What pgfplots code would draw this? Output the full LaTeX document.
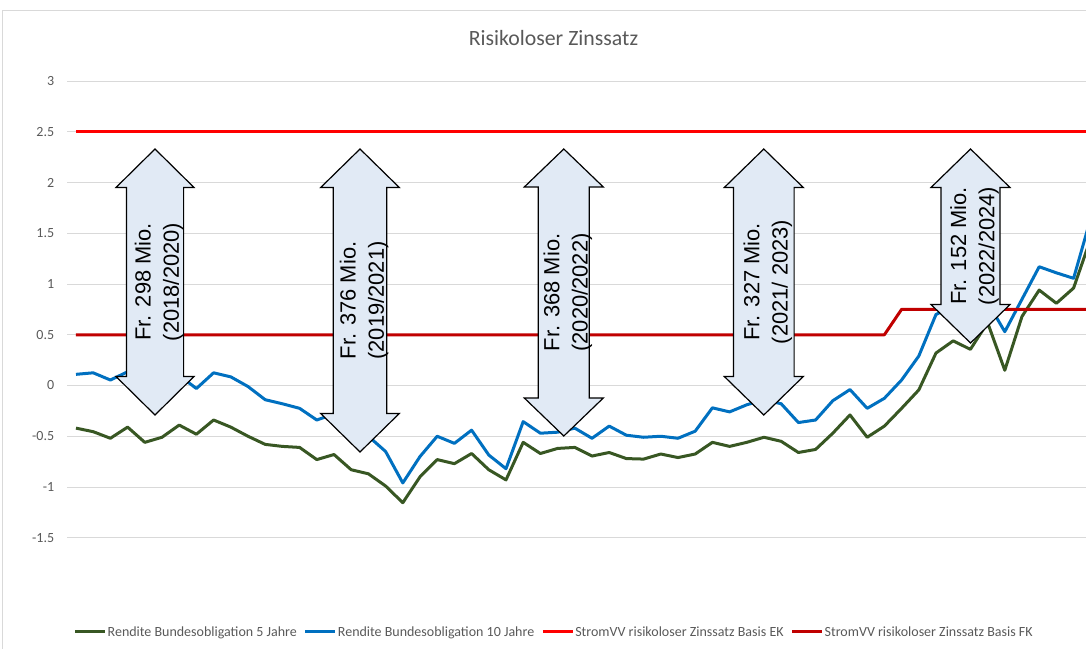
\documentclass[border=0pt]{standalone}
\usepackage{pgfplots}
\pgfplotsset{compat=1.18}
\usepackage{pgfplotstable}
\usepackage{fontspec}
\setmainfont{Carlito}
\newfontfamily\arialfont{Liberation Sans}
\definecolor{g5}{HTML}{385723}
\definecolor{b10}{HTML}{0070C0}
\definecolor{rek}{HTML}{FF0000}
\definecolor{rfk}{HTML}{C00000}
\definecolor{gridc}{HTML}{D9D9D9}
\definecolor{txt}{HTML}{595959}
\definecolor{arrowfill}{HTML}{E1EAF5}

\pgfplotstableread{
i g b ek fk
0 -0.42 0.11 2.5 0.5
1 -0.455 0.125 2.5 0.5
2 -0.52 0.054 2.5 0.5
3 -0.41 0.135 2.5 0.5
4 -0.56 0.00 2.5 0.5
5 -0.51 0.03 2.5 0.5
6 -0.39 0.10 2.5 0.5
7 -0.48 -0.03 2.5 0.5
8 -0.34 0.125 2.5 0.5
9 -0.41 0.085 2.5 0.5
10 -0.50 -0.01 2.5 0.5
11 -0.58 -0.14 2.5 0.5
12 -0.60 -0.18 2.5 0.5
13 -0.61 -0.225 2.5 0.5
14 -0.73 -0.34 2.5 0.5
15 -0.68 -0.28 2.5 0.5
16 -0.83 -0.42 2.5 0.5
17 -0.87 -0.50 2.5 0.5
18 -0.99 -0.65 2.5 0.5
19 -1.155 -0.96 2.5 0.5
20 -0.90 -0.70 2.5 0.5
21 -0.73 -0.50 2.5 0.5
22 -0.77 -0.57 2.5 0.5
23 -0.67 -0.44 2.5 0.5
24 -0.83 -0.685 2.5 0.5
25 -0.93 -0.82 2.5 0.5
26 -0.56 -0.356 2.5 0.5
27 -0.67 -0.47 2.5 0.5
28 -0.62 -0.46 2.5 0.5
29 -0.61 -0.42 2.5 0.5
30 -0.695 -0.52 2.5 0.5
31 -0.66 -0.40 2.5 0.5
32 -0.72 -0.49 2.5 0.5
33 -0.725 -0.51 2.5 0.5
34 -0.675 -0.50 2.5 0.5
35 -0.71 -0.52 2.5 0.5
36 -0.675 -0.45 2.5 0.5
37 -0.56 -0.22 2.5 0.5
38 -0.60 -0.26 2.5 0.5
39 -0.56 -0.19 2.5 0.5
40 -0.51 -0.14 2.5 0.5
41 -0.55 -0.18 2.5 0.5
42 -0.66 -0.365 2.5 0.5
43 -0.63 -0.34 2.5 0.5
44 -0.47 -0.15 2.5 0.5
45 -0.29 -0.04 2.5 0.5
46 -0.51 -0.225 2.5 0.5
47 -0.40 -0.126 2.5 0.5
48 -0.225 0.054 2.5 0.75
49 -0.044 0.29 2.5 0.75
50 0.32 0.70 2.5 0.75
51 0.44 0.78 2.5 0.75
52 0.356 0.72 2.5 0.75
53 0.62 0.82 2.5 0.75
54 0.15 0.53 2.5 0.75
55 0.68 0.85 2.5 0.75
56 0.94 1.17 2.5 0.75
57 0.81 1.11 2.5 0.75
58 0.96 1.056 2.5 0.75
59 1.45 1.65 2.5 0.75
}\datatable

\newcommand\udarrow[7]{%
  \pgfmathsetmacro\cx{#1-67.4}%
  \pgfmathsetmacro\ty{537.75-#2}%
  \pgfmathsetmacro\by{537.75-#3}%
  \pgfmathsetmacro\xa{\cx-#5}\pgfmathsetmacro\xb{\cx-#4}%
  \pgfmathsetmacro\xc{\cx+#4}\pgfmathsetmacro\xd{\cx+#5}%
  \pgfmathsetmacro\ya{\ty-#6}\pgfmathsetmacro\yb{\by+#6}%
  \pgfmathsetmacro\ym{(\ty+\by)/2}\pgfmathsetmacro\xt{\cx+4}%
  \draw[fill=arrowfill, draw=black, line width=1.2pt, line join=miter]
    (\cx pt,\ty pt) -- (\xd pt,\ya pt) -- (\xc pt,\ya pt) -- (\xc pt,\yb pt) -- (\xd pt,\yb pt)
    -- (\cx pt,\by pt) -- (\xa pt,\yb pt) -- (\xb pt,\yb pt) -- (\xb pt,\ya pt) -- (\xa pt,\ya pt) -- cycle;
  \node[rotate=90, align=center, inner sep=0pt, font=\arialfont\fontsize{21.9}{28.3}\selectfont] at (\xt pt,\ym pt) {#7};
}

\begin{document}
\begin{tikzpicture}
\useasboundingbox (-67.4pt,-110.25pt) rectangle (1018.6pt,537.75pt);
\draw[gridc, line width=1pt] (-64.4pt,-120pt) -- (-64.4pt,526.75pt) -- (1030pt,526.75pt);
\begin{axis}[
  at={(0pt,0pt)}, anchor=south west, scale only axis,
  width=1018.6pt, height=456.75pt,
  xmin=-0.5, xmax=58.72, ymin=-1.5, ymax=3,
  xtick=\empty, ytick={-1.5,-1,-0.5,0,0.5,1,1.5,2,2.5,3},
  ymajorgrids, grid style={gridc, line width=0.9pt},
  axis line style={draw=none}, major tick length=0pt,
  /pgf/number format/assume math mode=true,
  yticklabel style={font=\fontsize{14}{16}\selectfont, text=txt, anchor=east, inner sep=0pt, xshift=-13pt,
    /pgf/number format/fixed, /pgf/number format/precision=1},
  legend columns=4,
  legend style={draw=none, fill=none, at={(axis description cs:0.4774,-0.2063)}, anchor=center,
    font=\fontsize{14}{16}\selectfont\color{txt}, nodes={inner sep=1pt},
    /tikz/every even column/.append style={column sep=6pt}},
  legend image code/.code={\draw[#1, line width=3pt] (0pt,0pt) -- (30pt,0pt);},
  every axis plot/.append style={line width=3pt, line join=round},
]
\addplot[g5, mark=none] table[x=i, y=g] {\datatable};
\addlegendentry{Rendite Bundesobligation 5 Jahre}
\addplot[b10, mark=none] table[x=i, y=b] {\datatable};
\addlegendentry{Rendite Bundesobligation 10 Jahre}
\addplot[rek, mark=none] table[x=i, y=ek] {\datatable};
\addlegendentry{StromVV risikoloser Zinssatz Basis EK}
\addplot[rfk, mark=none] table[x=i, y=fk] {\datatable};
\addlegendentry{StromVV risikoloser Zinssatz Basis FK}
\end{axis}
\node[font=\fontsize{21.8}{25}\selectfont, text=txt] at (486.1pt,499.75pt) {Risikoloser Zinssatz};
\udarrow{155}{149}{415}{28.6}{39}{38.5}{Fr. 298 Mio.\\(2018/2020)}
\udarrow{360}{149}{452}{26.7}{39.3}{38.5}{Fr. 376 Mio.\\(2019/2021)}
\udarrow{563.8}{149}{436}{25.5}{39.5}{38}{Fr. 368 Mio.\\(2020/2022)}
\udarrow{763.8}{149}{415}{30.3}{39.5}{38.5}{Fr. 327 Mio.\\(2021/ 2023)}
\udarrow{970.5}{149}{343}{29.5}{39.5}{38.5}{Fr. 152 Mio.\\(2022/2024)}
\end{tikzpicture}
\end{document}
